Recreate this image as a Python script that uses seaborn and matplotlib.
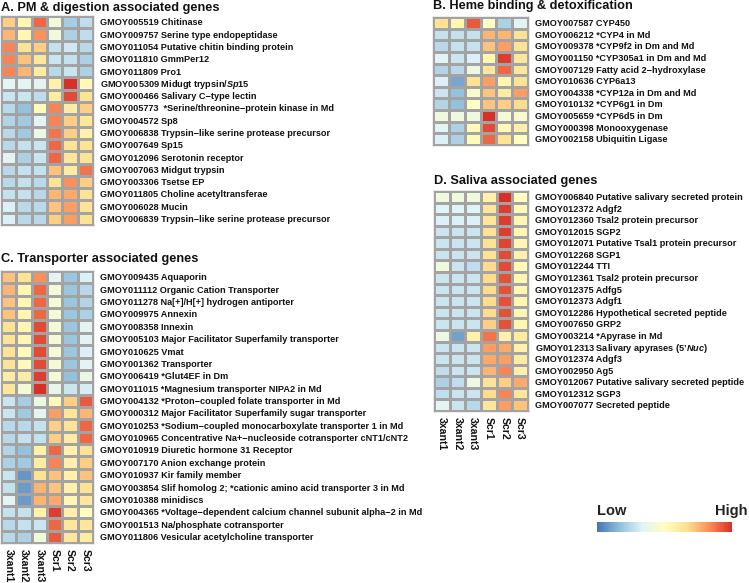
import numpy as np
import pandas as pd
import seaborn as sns
import matplotlib.pyplot as plt
import matplotlib.transforms as mtransforms
from matplotlib.colors import LinearSegmentedColormap, Normalize
from matplotlib.cm import ScalarMappable

sns.set_theme(style="white")
plt.rcParams['font.family'] = ['Liberation Sans', 'DejaVu Sans']
plt.rcParams['mathtext.fontset'] = 'custom'
plt.rcParams['mathtext.it'] = 'Liberation Sans:italic:bold'
plt.rcParams['mathtext.rm'] = 'Liberation Sans:bold'

samples = ["3xant1", "3xant2", "3xant3", "Scr1", "Scr2", "Scr3"]

# A. PM & digestion
pm_genes = [
    "GMOY005519 Chitinase",
    "GMOY009757 Serine type endopeptidase",
    "GMOY011054 Putative chitin binding protein",
    "GMOY011810 GmmPer12",
    "GMOY011809 Pro1",
    "GMOY005309 Midugt trypsin/$\\it{Sp}$15",
    "GMOY000466 Salivary C\u2212type lectin",
    "GMOY005773  *Serine/threonine\u2212protein kinase in Md",
    "GMOY004572 Sp8",
    "GMOY006838 Trypsin\u2212like serine protease precursor",
    "GMOY007649 Sp15",
    "GMOY012096 Serotonin receptor",
    "GMOY007063 Midgut trypsin",
    "GMOY003306 Tsetse EP",
    "GMOY011805 Choline acetyltransferae",
    "GMOY006028 Mucin",
    "GMOY006839 Trypsin\u2212like serine protease precursor",
]
pm_values = [
    [0.8, 0.2, 1.6, -0.3, -1.15, -0.95],
    [1.0, 0.2, 1.3, -0.35, -1.1, -0.95],
    [1.4, 0.6, 0.8, -0.9, -0.8, -1.0],
    [1.4, 0.9, 0.5, -0.85, -0.9, -1.1],
    [1.4, 1.0, 0.4, -1.0, -0.85, -1.1],
    [-0.6, -0.6, -0.6, 0.3, 2.0, 0.1],
    [-0.85, -0.85, -0.95, 0.4, 1.8, 0.6],
    [-1.0, -1.3, 0.1, 1.4, 0.4, 0.8],
    [-1.05, -1.2, -0.6, 1.4, 0.8, 0.5],
    [-1.0, -1.2, -0.4, 1.5, 0.8, 0.3],
    [-1.0, -0.9, -0.85, 1.6, 0.6, 0.6],
    [-0.6, -1.1, -0.85, 1.6, 0.5, 0.6],
    [-1.0, -0.9, -0.9, 0.9, 0.4, 1.5],
    [-1.0, -0.9, -1.0, 0.6, 1.3, 0.8],
    [-0.9, -0.9, -1.0, 1.0, 1.1, 0.6],
    [-0.7, -1.0, -1.0, 0.9, 1.2, 0.6],
    [-0.7, -1.0, -1.0, 0.8, 1.2, 0.6],
]

# B. Heme binding & detoxification
heme_genes = [
    "GMOY007587 CYP450",
    "GMOY006212 *CYP4 in Md",
    "GMOY009378 *CYP9f2 in Dm and Md",
    "GMOY001150 *CYP305a1 in Dm and Md",
    "GMOY007129 Fatty acid 2\u2212hydroxylase",
    "GMOY010636 CYP6a13",
    "GMOY004338 *CYP12a in Dm and Md",
    "GMOY010132 *CYP6g1 in Dm",
    "GMOY005659 *CYP6d5 in Dm",
    "GMOY000398 Monooxygenase",
    "GMOY002158 Ubiquitin Ligase",
]
heme_values = [
    [0.6, 0.2, 1.7, -0.1, -1.1, -0.6],
    [-0.9, -0.9, -0.9, 1.0, 1.0, 0.6],
    [-1.0, -0.9, -0.9, 0.9, 1.2, 0.6],
    [-0.6, -0.85, -0.7, 0.2, 1.9, 0.5],
    [-1.05, -1.0, -0.4, 0.5, 1.6, 0.5],
    [-0.7, -1.55, 0.6, 1.2, 0.2, 0.6],
    [-0.85, -1.3, -0.15, 0.9, 0.4, 1.2],
    [-1.05, -1.3, -0.05, 0.9, 0.8, 0.7],
    [-0.35, -0.35, -0.35, 2.0, -0.25, -0.15],
    [-0.6, -1.1, 0.1, 1.8, 0.1, 0.3],
    [-0.7, -1.1, 0.1, 1.6, 0.6, 0.0],
]

# C. Transporter associated genes
trans_genes = [
    "GMOY009435 Aquaporin",
    "GMOY011112 Organic Cation Transporter",
    "GMOY011278 Na[+]/H[+] hydrogen antiporter",
    "GMOY009975 Annexin",
    "GMOY008358 Innexin",
    "GMOY005103 Major Facilitator Superfamily transporter",
    "GMOY010625 Vmat",
    "GMOY001362 Transporter",
    "GMOY006419 *Glut4EF in Dm",
    "GMOY011015 *Magnesium transporter NIPA2 in Md",
    "GMOY004132 *Proton\u2212coupled folate transporter in Md",
    "GMOY000312 Major Facilitator Superfamily sugar transporter",
    "GMOY010253 *Sodium\u2212coupled monocarboxylate transporter 1 in Md",
    "GMOY010965 Concentrative Na+\u2212nucleoside cotransporter cNT1/cNT2",
    "GMOY010919 Diuretic hormone 31 Receptor",
    "GMOY007170 Anion exchange protein",
    "GMOY010937 Kir family member",
    "GMOY003854 Slif homolog 2; *cationic amino acid transporter 3 in Md",
    "GMOY010388 minidiscs",
    "GMOY004365 *Voltage\u2212dependent calcium channel subunit alpha\u22122 in Md",
    "GMOY001513 Na/phosphate cotransporter",
    "GMOY011806 Vesicular acetylcholine transporter",
]
trans_values = [
    [0.9, 0.6, 1.3, -0.6, -1.25, -0.7],
    [1.0, 0.2, 1.6, -0.25, -1.25, -1.0],
    [0.9, 0.2, 1.6, -0.25, -1.25, -1.05],
    [0.9, 0.2, 1.6, -0.25, -1.25, -1.1],
    [0.6, 0.2, 1.8, -0.25, -1.25, -0.6],
    [0.6, 0.2, 1.8, -0.25, -1.25, -0.6],
    [0.6, 0.1, 1.8, -0.25, -1.25, -0.7],
    [0.6, 0.1, 1.8, -0.25, -1.25, -0.6],
    [0.4, 0.4, 1.9, -0.25, -1.3, -0.45],
    [0.5, -0.25, 2.0, -0.5, -0.85, -0.75],
    [-0.85, -1.15, -0.4, 0.1, 0.8, 1.7],
    [-0.85, -1.2, -0.6, 1.2, 0.5, 1.0],
    [-1.0, -1.0, -0.9, 0.8, 0.6, 1.6],
    [-1.0, -0.9, -0.9, 0.8, 0.4, 1.6],
    [-1.05, -1.3, 0.3, 1.6, 0.3, 0.6],
    [-1.1, -1.2, 0.4, 1.4, 0.3, 0.8],
    [-0.85, -1.7, 0.6, 0.9, 0.3, 0.9],
    [-0.9, -1.65, 1.0, 0.9, 0.3, 0.6],
    [-0.6, -1.65, 1.0, 1.1, 0.2, 0.5],
    [-0.9, -0.9, 0.3, 1.9, 0.3, 0.0],
    [-1.0, -0.9, -0.85, 1.6, 0.5, 0.5],
    [-1.0, -1.1, -0.3, 1.7, 0.5, 0.4],
]

# D. Saliva associated genes
saliva_genes = [
    "GMOY006840 Putative salivary secreted protein",
    "GMOY012372 Adgf2",
    "GMOY012360 Tsal2 protein precursor",
    "GMOY012015 SGP2",
    "GMOY012071 Putative Tsal1 protein precursor",
    "GMOY012268 SGP1",
    "GMOY012244 TTI",
    "GMOY012361 Tsal2 protein precursor",
    "GMOY012375 Adfg5",
    "GMOY012373 Adgf1",
    "GMOY012286 Hypothetical secreted peptide",
    "GMOY007650 GRP2",
    "GMOY003214 *Apyrase in Md",
    "GMOY012313 Salivary apyrases ($\\it{5\u2019Nuc}$)",
    "GMOY012374 Adgf3",
    "GMOY002950 Ag5",
    "GMOY012067 Putative salivary secreted peptide",
    "GMOY012312 SGP3",
    "GMOY007077 Secreted peptide",
]
saliva_values = [
    [-0.35, -0.35, -0.35, 0.3, 2.0, 0.0],
    [-0.65, -0.65, -0.65, 0.5, 1.9, 0.1],
    [-0.7, -0.7, -0.7, 0.5, 1.9, 0.2],
    [-0.85, -0.85, -0.85, 0.6, 1.9, 0.2],
    [-0.85, -0.85, -0.85, 0.6, 1.85, 0.2],
    [-0.85, -0.85, -0.85, 0.6, 1.8, 0.3],
    [-0.35, -0.85, -0.95, 0.7, 1.8, 0.1],
    [-0.85, -0.85, -0.85, 0.7, 1.75, 0.2],
    [-0.85, -0.85, -0.85, 0.7, 1.75, 0.2],
    [-0.85, -0.85, -0.85, 0.7, 1.75, 0.2],
    [-0.85, -0.85, -0.85, 0.7, 1.75, 0.2],
    [-0.85, -0.85, -0.85, 0.8, 1.75, 0.2],
    [-0.4, -1.6, 0.3, 1.5, 0.3, 0.4],
    [-0.85, -0.85, -0.85, 1.2, 1.1, 0.3],
    [-0.85, -0.85, -0.85, 1.1, 1.2, 0.4],
    [-0.95, -0.85, -0.85, 1.0, 1.4, 0.3],
    [-1.1, -0.95, -0.4, 0.6, 0.8, 1.1],
    [-0.95, -0.85, -0.85, 0.7, 1.4, 0.5],
    [-0.6, -0.85, -1.0, 0.5, 1.2, 0.9],
]

W, H = 749, 583
cmap = LinearSegmentedColormap.from_list(
    "rdylbu_r", ["#4575B4", "#91BFDB", "#E0F3F8", "#FFFFBF", "#FEE090", "#FC8D59", "#D73027"])
grid_col = "#a3a3a3"

fig = plt.figure(figsize=(W / 100, H / 100), dpi=100)


def px_axes(x0, y0, x1, y1):
    return fig.add_axes([x0 / W, 1 - y1 / H, (x1 - x0) / W, (y1 - y0) / H])


def panel(box, genes, values, title, title_y, show_cols):
    ax = px_axes(*box)
    df = pd.DataFrame(values, index=genes, columns=samples)
    sns.heatmap(df, ax=ax, cmap=cmap, vmin=-2, vmax=2, cbar=False,
                linewidths=0.8, linecolor=grid_col,
                xticklabels=show_cols, yticklabels=False)
    ax.set_yticks([])
    # gene names to the right of each row, all on a common baseline offset
    trans = mtransforms.offset_copy(
        mtransforms.blended_transform_factory(ax.transAxes, ax.transData),
        fig=fig, x=7, y=-3.2, units="dots")
    for i, g in enumerate(df.index):
        ax.text(1.0, i + 0.5, g, transform=trans, fontsize=6.6,
                fontweight="bold", color="#111111", ha="left", va="baseline")
    if show_cols:
        ax.tick_params(axis="x", length=0, pad=4, labelsize=7.6, rotation=270)
        for lab in ax.get_xticklabels():
            lab.set_fontweight("bold")
            lab.set_color("#111111")
    for sp in ax.spines.values():
        sp.set_visible(True)
        sp.set_color(grid_col)
        sp.set_linewidth(1.0)
    fig.text(box[0] / W, 1 - title_y / H, title, fontsize=9.2,
             fontweight="bold", va="baseline", ha="left", color="#111111")
    return ax


panel((1, 16, 93, 225), pm_genes, pm_values,
      "A. PM & digestion associated genes", 10.5, False)
panel((433, 17, 528, 145), heme_genes, heme_values,
      "B. Heme binding & detoxification", 9.5, False)
panel((1, 271, 93, 543), trans_genes, trans_values,
      "C. Transporter associated genes", 262, True)
panel((434, 191, 528, 411), saliva_genes, saliva_values,
      "D. Saliva associated genes", 184, True)

# legend bar
cax = px_axes(597, 522, 732, 532)
cb = fig.colorbar(ScalarMappable(norm=Normalize(-2, 2), cmap=cmap),
                  cax=cax, orientation="horizontal")
cb.outline.set_visible(False)
cax.set_xticks([])
fig.text(597 / W, 1 - 515 / H, "Low", fontsize=10.5, fontweight="bold",
         va="baseline", ha="left", color="#222222")
fig.text(748 / W, 1 - 515 / H, "High", fontsize=10.5, fontweight="bold",
         va="baseline", ha="right", color="#222222")

fig.savefig("out.png", dpi=100)
